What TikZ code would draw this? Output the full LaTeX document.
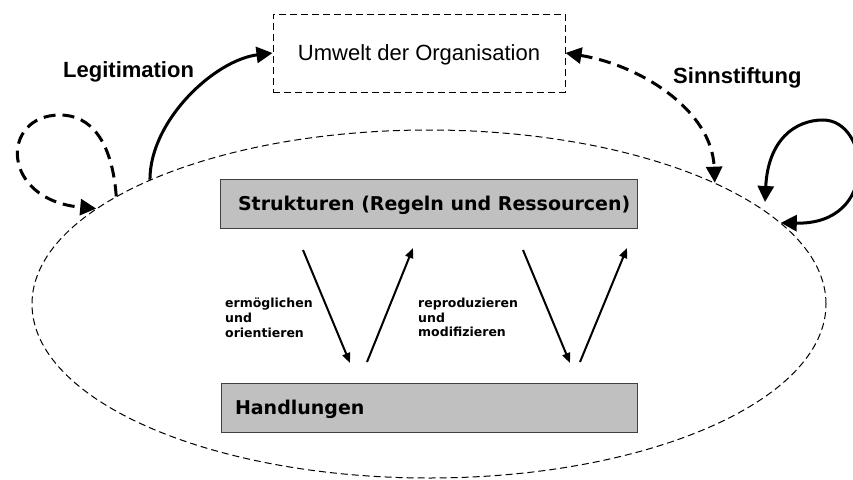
\documentclass[tikz,border=0pt]{standalone}
\usepackage{fontspec}
\newfontfamily\arialf{Liberation Sans}
\newfontfamily\verdf{DejaVu Sans}
\usetikzlibrary{shapes.geometric,arrows.meta}
\definecolor{boxgray}{HTML}{C0C0C0}
\begin{document}
\begin{tikzpicture}[x=1pt,y=-1pt,
  thindash/.style={line width=1pt, dash pattern=on 7pt off 4pt},
  thickdash/.style={line width=3pt, dash pattern=on 12pt off 7pt},
  graybox/.style={draw=black!75, line width=1pt, fill=boxgray, inner sep=0pt, text depth=0pt,
    font=\verdf\bfseries\fontsize{19}{23}\selectfont},
  bigtip/.tip={Triangle[length=16pt,width=16pt]},
  bigline/.style={line width=3pt},
  smallarrow/.style={line width=2pt, -{Triangle[length=10pt,width=8pt]}},
  biglabel/.style={anchor=base west, inner sep=0pt, font=\arialf\bfseries\fontsize{22}{26}\selectfont},
  smalllabel/.style={anchor=north west, inner sep=0pt, align=left,
    font=\verdf\bfseries\fontsize{12.5}{14.7}\selectfont}]
\useasboundingbox (0,0) rectangle (853,479);

% nodes
\node[ellipse, draw, thindash, minimum width=794pt, minimum height=348pt, inner sep=0pt] (ell) at (429,304) {};
\node[rectangle, draw, thindash, minimum width=292pt, minimum height=78pt, inner sep=0pt,
  text depth=0pt, font=\arialf\fontsize{22}{26}\selectfont] (umw) at (419,53) {Umwelt der Organisation};
\node[graybox, minimum width=417pt, minimum height=49pt] (struk) at (428.5,203.5)
  {\makebox[417pt][l]{\hspace{18pt}Strukturen (Regeln und Ressourcen)}};
\node[graybox, minimum width=416pt, minimum height=49pt] (hand) at (429,407.5)
  {\makebox[416pt][l]{\hspace{14pt}Handlungen}};

\node[biglabel] (legit) at (63,77) {Legitimation};
\node[biglabel] (sinn) at (673,83) {Sinnstiftung};
\node[smalllabel] (erm) at (225,297.8) {ermöglichen\\und\\orientieren};
\node[smalllabel] (rep) at (418,297.8) {reproduzieren\\und\\modifizieren};

% coordinates for free arrow ends
\coordinate (a1s) at (303,250);
\coordinate (a1e) at (350,363);
\coordinate (a2s) at (367,362);
\coordinate (a2e) at (413,248);
\coordinate (a3s) at (523,250);
\coordinate (a3e) at (570,363);
\coordinate (a4s) at (580,362);
\coordinate (a4e) at (627,248);
\coordinate (rtip) at (765,202);

% middle arrows
\draw[smallarrow] (a1s) -- (a1e);
\draw[smallarrow] (a2s) -- (a2e);
\draw[smallarrow] (a3s) -- (a3e);
\draw[smallarrow] (a4s) -- (a4e);

% Legitimation
\draw[bigline, -bigtip] (ell.156.6) .. controls (150,120) and (215,60) .. (umw.west);
% Sinnstiftung
\draw[thickdash, bigtip-bigtip] (umw.east) .. controls (640,65) and (712,110) .. (ell.23.3);
% left dashed loop
\draw[thickdash, -bigtip] (ell.161.35) .. controls (112,140) and (90,115) .. (60,115)
  .. controls (0,115) and (0,200) .. (ell.164.2);
% right solid loop
\draw[bigline, bigtip-bigtip] (rtip) .. controls (768,140) and (795,120) .. (823,120)
  .. controls (870,120) and (880,225) .. (ell.13.7);
\end{tikzpicture}
\end{document}
